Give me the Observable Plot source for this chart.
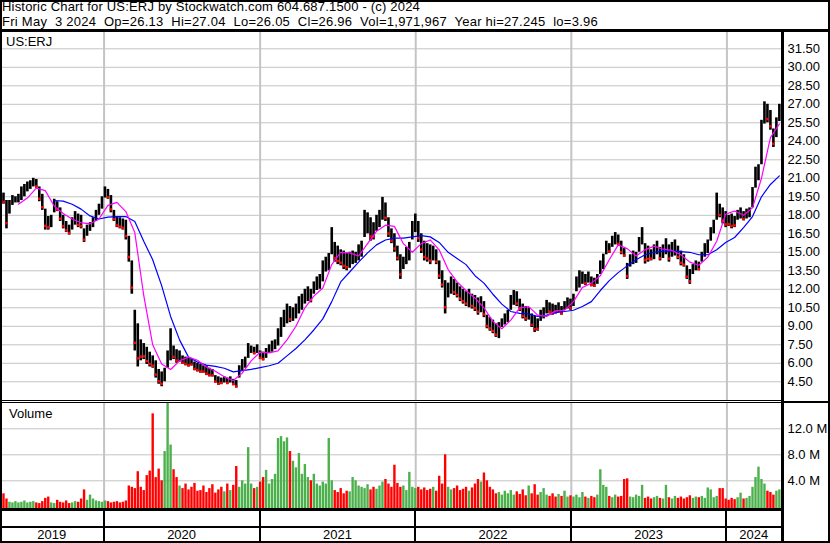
<!DOCTYPE html>
<html><head><meta charset="utf-8">
<script src="https://cdn.jsdelivr.net/npm/d3@7"></script>
<script src="https://cdn.jsdelivr.net/npm/@observablehq/plot@0.6"></script>
<style>
body{margin:0;background:#fff;}
#root{position:relative;width:830px;height:543px;overflow:hidden;font-family:"Liberation Sans",Arial,sans-serif;background:#fff;}
.blk{position:absolute;background:#000;z-index:5;}
.txt{position:absolute;white-space:pre;font-size:13px;color:#000;line-height:15px;z-index:6;}
svg{position:absolute;left:0;}
</style></head><body><div id="root"></div>
<script>
// ---------- text ----------
const titleLine = "Historic Chart for US:ERJ by Stockwatch.com 604.687.1500 - (c) 2024";
const infoLine = "Fri May  3 2024  Op=26.13  Hi=27.04  Lo=26.05  Cl=26.96  Vol=1,971,967  Year hi=27.245  lo=3.96";
const ticker = "US:ERJ";
const volumeLabel = "Volume";
const years = [2019, 2020, 2021, 2022, 2023, 2024];
const priceTicks = [4.5,6,7.5,9,10.5,12,13.5,15,16.5,18,19.5,21,22.5,24,25.5,27,28.5,30,31.5];
const volTicks = [4, 8, 12];

// ---------- weekly data (Fridays 2019-05-03 .. 2024-05-03) ----------
const hiW = [
19.9,19.8,19.2,19.2,19.6,19.5,19.7,20.3,20.5,20.7,
20.8,21.0,20.9,20.3,19.7,18.5,17.9,18.0,19.3,19.1,
18.6,18.0,17.5,17.2,17.8,18.3,18.1,18.0,16.9,17.2,
17.4,17.8,18.4,18.9,19.5,20.3,20.1,19.6,18.4,17.9,
17.8,17.7,17.6,16.3,14.3,10.3,9.2,7.9,7.6,7.3,
6.9,6.6,6.2,5.5,5.3,5.6,7.0,8.8,7.4,7.1,
7.0,6.6,6.5,6.4,6.3,6.1,6.0,5.9,5.8,5.8,
5.6,5.5,5.0,4.9,4.8,4.9,4.8,4.9,4.7,4.6,
5.8,6.3,6.5,7.6,7.4,7.3,7.5,7.0,6.9,7.2,
7.5,7.8,7.9,8.8,9.7,10.3,10.8,10.6,10.5,10.8,
11.4,11.6,12.0,12.2,12.0,12.6,13.0,13.2,14.3,14.6,
14.9,17.0,15.8,15.5,15.2,15.1,14.9,15.0,15.1,15.0,
15.6,15.9,18.4,18.2,17.8,17.4,18.0,18.4,19.45,19.0,
17.8,16.9,16.5,15.5,14.8,14.6,15.4,15.8,17.5,18.1,
17.5,16.5,15.9,15.7,15.6,15.5,15.2,14.3,13.5,12.7,
12.5,13.0,12.8,12.5,12.2,12.0,11.8,12.0,11.6,11.5,
11.3,11.4,11.0,9.9,9.7,9.5,9.2,9.3,9.6,10.0,
10.3,11.5,11.9,11.8,11.2,10.8,10.6,10.5,10.0,9.8,
9.6,10.3,10.5,11.1,10.9,10.8,10.7,10.9,10.6,11.0,
11.3,11.2,11.6,13.0,13.5,13.4,13.2,13.4,13.0,12.9,
13.2,14.3,14.85,15.9,15.7,16.3,16.6,16.4,15.9,15.3,
14.1,14.8,15.1,15.0,16.2,17.0,15.7,15.5,15.2,15.6,
15.9,15.4,15.6,16.1,15.6,15.8,16.0,15.5,15.1,14.8,
13.9,13.6,14.0,14.3,14.2,15.0,15.7,16.0,17.0,17.6,
19.8,18.9,18.6,18.3,18.0,18.1,17.9,18.4,18.6,18.3,
18.5,18.6,20.25,21.9,22.1,25.7,27.2,27.0,26.5,25.0,
25.9,27.0];
const loW = [
19.0,18.9,16.9,18.1,18.8,19.0,19.0,19.2,19.5,19.9,
20.1,20.3,20.2,19.1,18.4,16.8,16.8,17.0,18.2,18.3,
17.5,16.9,16.6,16.4,16.8,17.2,17.0,16.9,15.8,16.3,
16.7,17.0,17.5,18.0,18.5,19.4,19.3,18.2,17.5,17.0,
16.9,16.8,16.0,14.2,11.6,7.0,5.7,6.2,6.3,5.9,
5.7,5.6,4.8,4.3,4.1,4.5,5.6,6.2,6.3,6.0,
6.1,5.9,5.8,5.7,5.8,5.4,5.3,5.2,5.2,5.0,
4.9,4.9,4.4,4.2,4.3,4.4,4.3,4.4,4.2,4.0,
4.8,5.4,5.6,6.4,6.8,6.7,6.8,6.3,6.2,6.4,
6.8,6.9,7.1,7.4,8.1,8.9,9.2,9.3,9.4,9.6,
10.0,10.3,10.8,11.0,10.9,11.6,11.9,12.0,12.6,13.4,
13.5,14.8,14.2,14.0,13.9,13.6,13.5,13.7,14.0,14.1,
14.3,14.6,16.2,16.5,15.9,16.0,16.7,17.0,17.6,17.5,
16.2,15.7,15.0,14.3,12.8,13.6,14.0,14.3,16.0,16.6,
15.8,14.9,14.3,14.2,14.0,14.3,14.0,12.8,12.1,10.0,
11.3,11.6,11.5,11.3,11.0,10.8,10.6,10.5,10.4,10.2,
9.9,10.1,9.7,8.8,8.6,8.4,8.1,8.0,8.9,9.1,
9.3,10.3,10.7,10.6,10.2,9.6,9.4,9.5,8.9,8.5,
8.6,9.4,9.6,10.0,10.0,9.9,10.0,10.1,9.9,10.3,
10.4,10.3,10.6,11.8,12.1,12.4,12.3,12.5,12.2,12.15,
12.4,13.2,13.6,14.8,14.9,15.4,15.6,15.5,14.8,14.6,
12.8,13.8,14.0,14.1,15.0,15.6,14.05,14.2,14.3,14.4,
14.8,14.3,14.5,14.8,14.2,14.6,14.7,14.4,13.9,13.8,
12.8,12.4,13.2,13.5,13.5,14.2,14.6,14.9,15.9,16.5,
17.6,17.8,17.3,17.0,17.1,16.9,17.0,17.6,17.7,17.55,
17.7,17.8,18.6,20.2,20.8,22.1,25.4,25.5,24.9,23.5,
24.3,25.6];
const volW = [
0.8,2.0,1.2,0.7,0.6,0.8,0.6,0.7,0.9,0.6,
0.7,0.8,0.6,0.5,0.8,1.3,1.5,0.6,0.5,1.0,
0.7,0.6,0.9,0.5,0.6,0.8,0.7,1.2,2.6,1.0,
1.8,1.2,0.9,0.8,0.7,0.9,0.8,0.6,0.7,0.8,
0.6,0.7,0.9,3.2,3.0,2.8,5.4,3.0,2.5,4.8,
5.5,14.3,4.5,5.8,4.0,8.5,16.0,9.5,5.7,4.5,
3.2,2.8,3.5,2.6,3.0,3.6,2.4,2.5,3.2,2.2,
2.8,3.4,2.1,2.6,3.0,2.3,3.5,2.5,3.3,6.2,
3.0,4.0,3.5,9.1,3.5,2.8,3.0,3.8,4.5,5.6,
3.5,4.2,5.0,10.5,10.8,10.0,10.6,8.5,7.0,6.0,
8.2,5.0,6.5,4.5,4.0,5.0,3.5,3.2,3.8,3.5,
10.5,4.0,2.5,2.2,2.8,2.0,2.4,2.3,4.5,4.0,
3.2,3.0,2.8,3.4,2.6,3.0,2.7,3.2,3.8,4.2,
3.5,3.0,6.4,3.6,3.0,3.2,2.5,5.3,3.0,2.8,
3.0,2.6,2.9,2.5,2.7,3.0,2.4,4.7,3.5,8.0,
3.0,2.6,2.8,3.2,2.5,2.7,3.0,2.4,2.9,3.5,
4.2,3.8,5.2,4.0,3.0,2.6,2.0,2.2,1.8,2.4,
2.0,2.5,1.8,2.3,1.9,2.6,1.7,3.2,2.0,3.4,
1.8,2.2,2.8,1.8,1.6,2.0,1.5,1.9,1.6,2.4,
1.5,1.7,1.5,1.8,1.4,2.2,1.5,1.3,1.6,1.4,
1.8,5.7,3.3,3.0,1.6,1.4,1.8,1.5,1.6,4.2,
4.3,1.5,1.4,1.8,1.6,3.3,1.3,1.5,1.2,1.4,
1.6,1.3,1.2,3.3,1.4,1.2,1.6,1.3,1.5,1.2,
1.4,1.7,1.3,1.5,1.4,1.6,1.3,2.9,2.6,1.4,
1.6,2.8,2.8,1.2,1.0,1.3,1.1,1.4,2.1,1.2,
1.3,1.6,3.0,4.5,6.1,4.2,3.5,2.4,2.2,1.8,
2.4,2.6];
// moving averages read every third week (magenta from week 6, blue from week 18)
const maMagenta = [
18.9,19.4,20.2,20.0,18.75,18.15,17.7,17.4,17.3,17.7,
18.8,19.05,18.3,16.6,11.5,7.5,5.95,5.5,6.2,6.5,
6.25,5.7,5.35,4.9,4.6,5.2,6.2,6.9,6.85,7.0,
7.9,9.0,10.5,11.45,12.1,14.0,15.0,14.95,14.7,15.7,
16.7,17.2,17.1,15.7,15.0,15.7,16.0,15.2,13.6,12.6,
11.9,11.3,10.5,9.4,8.8,9.5,10.5,10.6,9.9,9.8,
10.25,10.3,11.0,12.15,12.5,13.1,14.4,15.6,15.3,14.7,
15.2,15.5,15.25,15.15,14.8,14.2,13.95,14.6,15.9,18.1,
18.35,18.0,18.6,21.0,24.3,25.4];
const maBlue = [
19.2,19.15,18.9,18.5,17.95,17.7,17.85,17.9,17.9,17.5,
15.9,14.4,12.3,9.8,7.9,6.5,6.1,5.85,5.75,5.6,
5.3,5.4,5.5,5.65,5.8,6.0,6.6,7.2,7.9,8.7,
9.6,11.0,12.6,13.4,14.2,14.95,15.6,16.0,16.15,16.15,
16.25,16.35,16.25,15.8,15.0,14.5,14.0,13.1,12.5,11.6,
10.8,10.2,10.05,10.0,9.8,9.9,10.1,10.2,10.3,10.6,
11.0,11.9,12.7,13.35,13.9,14.4,14.8,15.0,15.1,15.1,
15.05,15.0,14.8,14.8,15.2,15.8,16.2,17.0,17.9,19.5,
20.5,21.2];

// ---------- build ----------
const weeks = d3.utcFriday.range(new Date(Date.UTC(2019,4,3)), new Date(Date.UTC(2024,4,4)));
if (weeks.length !== hiW.length || hiW.length !== loW.length || loW.length !== volW.length)
  throw new Error("length mismatch " + [weeks.length, hiW.length, loW.length, volW.length]);
const bars = weeks.map((date, i) => ({date, hi: hiW[i], lo: loW[i], vol: volW[i]}));
bars.forEach((b, i) => {
  const mid = (b.hi + b.lo) / 2;
  const prev = i ? (bars[i-1].hi + bars[i-1].lo) / 2 : mid;
  b.down = mid < prev;
});
const maRows = weeks.filter((d, i) => i % 3 === 0).map((date, k) => ({
  date,
  m: k >= 2 ? maMagenta[k-2] : null,
  b: k >= 6 ? maBlue[k-6] : null
}));
const yearStarts = years.slice(1).map(y => new Date(Date.UTC(y, 0, 1)));
const xDomain = [new Date(Date.UTC(2019,4,3)), new Date(Date.UTC(2024,4,8))];
const font = "'Liberation Sans', Arial, sans-serif";
const grid = "#c4c4c4";
const common = {width: 828, marginLeft: 0, marginRight: 47, marginTop: 0, marginBottom: 0,
  style: {background: "none", fontFamily: font, fontSize: "13px", color: "#000", overflow: "visible"}};

const price = Plot.plot({
  ...common, height: 369,
  x: {type: "utc", domain: xDomain, axis: null},
  y: {domain: [2.983, 32.903], axis: null},
  marks: [
    Plot.ruleY(priceTicks, {stroke: grid, strokeWidth: 1}),
    Plot.ruleX(yearStarts, {stroke: grid, strokeWidth: 2}),
    Plot.ruleX(bars, {x: "date", y1: "lo", y2: "hi", stroke: "#000", strokeWidth: 2.6}),
    Plot.dot(bars.filter(b => b.down), {x: "date", y: b => b.lo + 0.2 * (b.hi - b.lo), r: 1.4, symbol: "square", fill: "#ff0000", stroke: "none"}),
    Plot.line(maRows, {x: "date", y: "b", stroke: "#0000ff", strokeWidth: 1.2}),
    Plot.line(maRows, {x: "date", y: "m", stroke: "#ff00ff", strokeWidth: 1.2}),
    Plot.axisY(priceTicks, {anchor: "right", label: null, tickSize: 0, tickPadding: 6, tickFormat: d => d.toFixed(2), fontSize: 13})
  ]
});
price.style.top = "31px";

const volume = Plot.plot({
  ...common, height: 105,
  x: {type: "utc", domain: xDomain, axis: null},
  y: {domain: [-0.26, 15.89], axis: null},
  marks: [
    Plot.ruleY(volTicks, {stroke: grid, strokeWidth: 1}),
    Plot.ruleX(yearStarts, {stroke: grid, strokeWidth: 2}),
    Plot.ruleX(bars, {x: "date", y1: -0.26, y2: "vol", stroke: b => b.down ? "#ff0000" : "#4cb04c", strokeWidth: 2.4}),
    Plot.axisY(volTicks, {anchor: "right", label: null, tickSize: 0, tickPadding: 6, tickFormat: d => d.toFixed(1) + " M", fontSize: 13})
  ]
});
volume.style.top = "403px";

const root = document.getElementById("root");
root.append(price, volume);

function box(x, y, w, h) {
  const d = document.createElement("div");
  d.className = "blk";
  Object.assign(d.style, {left: x + "px", top: y + "px", width: w + "px", height: h + "px"});
  root.append(d);
}
function label(text, x, y, extra) {
  const d = document.createElement("div");
  d.className = "txt";
  d.textContent = text;
  Object.assign(d.style, {left: x + "px", top: y + "px"}, extra || {});
  root.append(d);
  return d;
}
function fit(el, target) {
  const w = el.getBoundingClientRect().width;
  const n = el.textContent.length;
  if (n > 1) el.style.letterSpacing = ((target - w) / n) + "px";
}
// frame
box(0, 0, 830, 2);
box(0, 0, 2, 543);
box(828, 0, 2, 543);
box(0, 29, 830, 3);
box(781, 31, 3, 512);
box(0, 400, 781, 1);
box(0, 402, 781, 1);
box(784, 401, 44, 2);
box(0, 508, 781, 3);
box(0, 526, 781, 2);
box(0, 541, 830, 2);
const xs = price.scale("x");
yearStarts.forEach(d => box(Math.round(xs.apply(d)) - 1, 511, 2, 30));

fit(label(titleLine, 2, -1), 418);
fit(label(infoLine, 2, 14), 596);
label(ticker, 6, 34);
label(volumeLabel, 9, 406);
years.forEach(y => {
  const a = new Date(Math.max(+xDomain[0], Date.UTC(y, 0, 1)));
  const b = new Date(Math.min(+xDomain[1], Date.UTC(y + 1, 0, 1)));
  const cx = (xs.apply(a) + xs.apply(b)) / 2;
  label(String(y), cx, 527, {transform: "translateX(-50%)"});
});
</script></body></html>
